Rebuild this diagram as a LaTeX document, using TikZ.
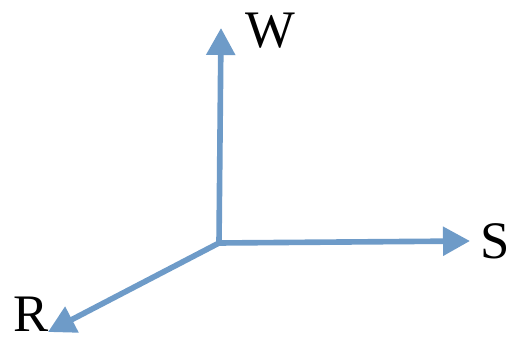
\documentclass[tikz,border=0pt]{standalone}
\usepackage{fontspec}
\setmainfont{Liberation Serif}
\usepackage{xcolor}
\usetikzlibrary{arrows.meta, positioning, calc}
\definecolor{axisblue}{RGB}{110,155,200}

\begin{document}
\begin{tikzpicture}[x=0.02cm, y=0.02cm,
    axis/.style={draw=axisblue, line width=3.2pt, -{Triangle[length=0.54cm, width=0.56cm]}},
    lab/.style={inner sep=0pt, font=\fontsize{30}{36}\selectfont}]
    \useasboundingbox (0, 0) rectangle (506, 337);

    % 原点与箭头端点
    \coordinate (O) at (219, 94);
    \coordinate (Wtip) at (221, 309);
    \coordinate (Stip) at (470, 96);
    \coordinate (Rtip) at (48, 5);

    % 三个坐标轴
    \draw[axis] (O) -- (Wtip);
    \draw[axis] (O) -- (Stip);
    \draw[axis] (O) -- (Rtip);

    % 标签
    \node[lab] (W) at (270, 306) {W};
    \node[lab, anchor=west] (S) at (480, 96) {S};
    \node[lab] (R) at (31, 23) {R};
\end{tikzpicture}
\end{document}
